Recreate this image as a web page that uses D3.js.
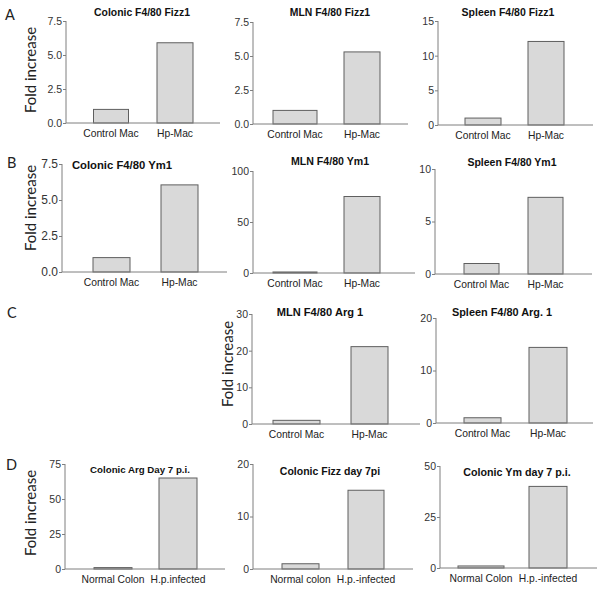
<!DOCTYPE html>
<html><head><meta charset="utf-8">
<script src="https://cdn.jsdelivr.net/npm/d3@7"></script>
<style>body{margin:0;background:#fff}</style></head>
<body>
<svg id="c" width="603" height="591"></svg>
<script>
// ---------- DATA ----------
const titles = [
  "Colonic F4/80 Fizz1", "MLN F4/80 Fizz1", "Spleen F4/80 Fizz1",
  "Colonic F4/80 Ym1", "MLN F4/80 Ym1", "Spleen F4/80 Ym1",
  "MLN F4/80 Arg 1", "Spleen F4/80 Arg. 1",
  "Colonic Arg Day 7 p.i.", "Colonic Fizz day 7pi", "Colonic Ym day 7 p.i."
];
const categories = [
  ["Control Mac", "Hp-Mac"], ["Control Mac", "Hp-Mac"], ["Control Mac", "Hp-Mac"],
  ["Control Mac", "Hp-Mac"], ["Control Mac", "Hp-Mac"], ["Control Mac", "Hp-Mac"],
  ["Control Mac", "Hp-Mac"], ["Control Mac", "Hp-Mac"],
  ["Normal Colon", "H.p.infected"], ["Normal colon", "H.p.-infected"], ["Normal Colon", "H.p.-infected"]
];
const values = [
  [1, 5.9], [1, 5.3], [1, 12.05],
  [1, 6.05], [1, 75], [1, 7.3],
  [1, 21.1], [1, 14.4],
  [1, 65], [1, 15], [1, 40]
];
const yMax = [7.5, 7.5, 15, 7.5, 100, 10, 30, 20, 75, 20, 50];
const yTicks = [
  [0, 2.5, 5, 7.5], [0, 2.5, 5, 7.5], [0, 5, 10, 15],
  [0, 2.5, 5, 7.5], [0, 50, 100], [0, 5, 10],
  [0, 10, 20, 30], [0, 10, 20],
  [0, 25, 50, 75], [0, 10, 20], [0, 25, 50]
];
const yTickLabels = [
  ["0.0", "2.5", "5.0", "7.5"], ["0.0", "2.5", "5.0", "7.5"], ["0", "5", "10", "15"],
  ["0.0", "2.5", "5.0", "7.5"], ["0", "50", "100"], ["0", "5", "10"],
  ["0", "10", "20", "30"], ["0", "10", "20"],
  ["0", "25", "50", "75"], ["0", "10", "20"], ["0", "25", "50"]
];
const yAxisTitle = "Fold increase";
const panelLetters = ["A", "B", "C", "D"];

// ---------- LAYOUT ----------
const layout = [
  {ax:66,  top:21,  bot:123, end:220, c:[45,109],    w:[35,36], tx:142, ty:16,  ts:10.4, tk:10.5},
  {ax:253, top:22,  bot:124, end:408, c:[42,109],    w:[44,36], tx:330, ty:16,  ts:10.4, tk:10.5},
  {ax:438, top:21,  bot:125, end:593, c:[45,108],    w:[36,36], tx:508, ty:16,  ts:10.5, tk:10.5},
  {ax:62,  top:164, bot:272, end:227, c:[49.5,117.5],w:[37,37], tx:122, ty:169, ts:11.3, tk:12},
  {ax:253, top:171, bot:273, end:415, c:[42,109],    w:[44,36], tx:330, ty:165, ts:10.6, tk:10.5},
  {ax:435, top:169, bot:274, end:592, c:[46.5,110.5],w:[35,35], tx:512, ty:166, ts:10.5, tk:10.5},
  {ax:252, top:314, bot:424, end:420, c:[44.5,117.5],w:[47,37], tx:320, ty:316, ts:11.1, tk:10.5},
  {ax:436, top:318, bot:423, end:593, c:[46.5,112],  w:[37,38], tx:502, ty:316, ts:10.9, tk:10.5},
  {ax:65,  top:464, bot:569, end:225, c:[48,113],    w:[38,38], tx:140, ty:473, ts:9.7,  tk:10.5},
  {ax:253, top:464, bot:569, end:413, c:[47.5,113],  w:[37,36], tx:330, ty:475, ts:10.5, tk:10.5},
  {ax:440, top:466, bot:568, end:597, c:[41,108],    w:[46,38], tx:517, ty:476, ts:10.7, tk:10.5}
];
const yLabelPos = {0:[36,70], 3:[36,208], 6:[233,364], 8:[36,513]};
const letterPos = [[5,20],[7,168],[7,318],[6,470]];

const svg = d3.select("#c");
const axisColor = "#7f7f7f";

titles.forEach((title, i) => {
  const L = layout[i];
  const g = svg.append("g").attr("transform", `translate(${L.ax},0)`);
  const y = d3.scaleLinear().domain([0, yMax[i]]).range([L.bot, L.top]);
  const step = L.c[1] - L.c[0];
  const bwBand = 36;
  const x = d3.scaleBand().domain(categories[i])
    .range([L.c[0] - bwBand/2, L.c[1] + bwBand/2])
    .paddingInner(1 - bwBand/step).paddingOuter(0);

  // bars
  g.selectAll("rect.bar").data(values[i]).join("rect")
    .attr("class","bar")
    .attr("x", (d,j) => x(categories[i][j]) + x.bandwidth()/2 - L.w[j]/2)
    .attr("width", (d,j) => L.w[j])
    .attr("y", d => y(d))
    .attr("height", d => y(0) - y(d))
    .attr("fill", "#d9d9d9")
    .attr("stroke", "#5f5f5f")
    .attr("stroke-width", 1);

  // y axis
  const yAxis = d3.axisLeft(y).tickValues(yTicks[i])
    .tickFormat((d,k) => yTickLabels[i][k]).tickSize(3).tickPadding(1);
  const ga = g.append("g").call(yAxis);
  ga.select(".domain").attr("stroke", axisColor).attr("d", `M0,${L.top}V${L.bot}`);
  ga.selectAll(".tick line").attr("stroke", axisColor);
  ga.selectAll(".tick text").attr("fill", "#333")
    .style("font-family", "'Liberation Sans', Arial, sans-serif")
    .style("font-size", L.tk + "px");

  // x axis line
  g.append("line").attr("x1", 0).attr("x2", L.end - L.ax)
    .attr("y1", y(0)).attr("y2", y(0))
    .attr("stroke", axisColor).attr("stroke-width", 1);

  // category labels
  g.selectAll("text.cat").data(categories[i]).join("text")
    .attr("class","cat")
    .attr("x", d => x(d) + x.bandwidth()/2)
    .attr("y", L.bot + 14)
    .attr("text-anchor", "middle")
    .attr("fill", "#222")
    .style("font-family", "'Liberation Sans', Arial, sans-serif")
    .style("font-size", "10.3px")
    .text(d => d);

  // title
  svg.append("text").attr("x", L.tx).attr("y", L.ty)
    .attr("text-anchor", "middle")
    .style("font-family", "'Liberation Sans', Arial, sans-serif")
    .style("font-weight", "bold")
    .style("font-size", L.ts + "px")
    .attr("fill", "#111")
    .text(title);

  if (yLabelPos[i]) {
    const [lx, ly] = yLabelPos[i];
    svg.append("text")
      .attr("transform", `translate(${lx},${ly}) rotate(-90)`)
      .attr("text-anchor", "middle")
      .style("font-family", "Lato, 'Open Sans', sans-serif")
      .style("font-size", "15px")
      .attr("fill", "#222")
      .text(yAxisTitle);
  }
});

panelLetters.forEach((t, k) => {
  svg.append("text").attr("x", letterPos[k][0]).attr("y", letterPos[k][1])
    .style("font-family", "Lato, 'Open Sans', sans-serif")
    .style("font-size", "14.5px")
    .attr("fill", "#222")
    .text(t);
});
</script>
</body></html>
